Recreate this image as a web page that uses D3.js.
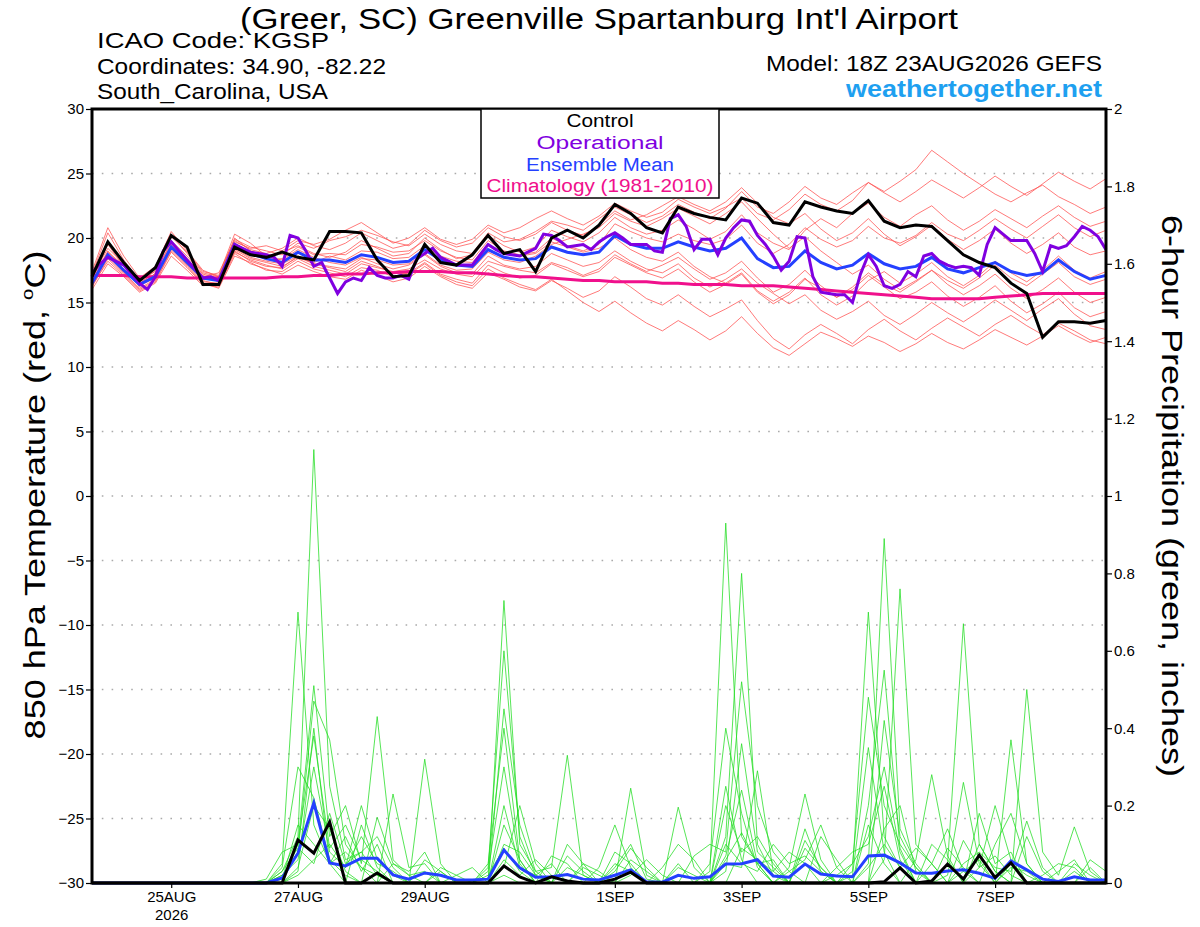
<!DOCTYPE html>
<html lang="en">

<head>
    <meta charset="UTF-8">
    <title>KGSP GEFS meteogram</title>
    <script src="https://d3js.org/d3.v7.min.js"></script>
    <style>
        body { margin: 0; background: #fff; }
        text { font-family: "Liberation Sans", Arial, Helvetica, sans-serif; }
    </style>
</head>

<body>
    <script>
        // model run start, 6-hourly steps (0..384h), operational run is 3-hourly
        const runStart = Date.UTC(2026, 7, 23, 18);
        const stepHours = 6;
        const opStepHours = 3;

        // x axis ticks
        const tickDates = ["2026-08-25", "2026-08-27", "2026-08-29", "2026-09-01", "2026-09-03", "2026-09-05", "2026-09-07"];
        const tickLabels = ["25AUG", "27AUG", "29AUG", "1SEP", "3SEP", "5SEP", "7SEP"];
        const tempTicks = [30, 25, 20, 15, 10, 5, 0, -5, -10, -15, -20, -25, -30];
        const precipTicks = [0, 0.2, 0.4, 0.6, 0.8, 1, 1.2, 1.4, 1.6, 1.8, 2];

        // 850 hPa temperature (C)
        const controlTemp = [17.0, 19.7, 18.1, 16.7, 17.7, 20.2, 19.3, 16.4, 16.4, 19.3,
            18.7, 18.5, 18.9, 18.5, 18.3, 20.5, 20.5, 20.4, 18.3, 17.0,
            17.1, 19.5, 18.1, 17.9, 18.7, 20.2, 18.8, 19.1, 17.4, 20.0,
            20.6, 20.0, 21.0, 22.6, 21.9, 20.8, 20.4, 22.4, 21.9, 21.6,
            21.4, 23.1, 22.7, 21.2, 21.0, 22.8, 22.4, 22.1, 21.9, 22.9,
            21.3, 20.8, 21.0, 20.9, 19.8, 18.7, 18.1, 17.7, 16.5, 15.7,
            12.3, 13.5, 13.5, 13.4, 13.6];

        const meanTemp = [16.5, 18.7, 17.5, 16.4, 17.0, 19.3, 18.1, 16.9, 16.7, 19.5,
            18.8, 18.4, 18.1, 18.9, 18.3, 18.3, 18.1, 18.7, 18.5, 18.1,
            18.2, 19.1, 18.3, 17.9, 17.8, 19.1, 18.5, 18.3, 18.4, 19.3,
            18.9, 18.7, 18.9, 20.2, 19.5, 19.2, 19.2, 19.7, 19.3, 19.0,
            19.2, 20.0, 18.4, 17.7, 17.8, 19.0, 18.1, 17.6, 17.9, 18.8,
            18.0, 17.6, 17.8, 18.5, 17.6, 17.3, 17.7, 18.1, 17.4, 17.1,
            17.3, 18.3, 17.4, 16.8, 17.1];

        const climoTemp = [17.1, 17.1, 17.1, 17.0, 17.0, 17.0, 16.9, 16.9, 16.9, 16.9,
            16.9, 16.9, 17.0, 17.0, 17.1, 17.1, 17.2, 17.2, 17.3, 17.3,
            17.4, 17.4, 17.4, 17.3, 17.3, 17.2, 17.1, 17.0, 17.0, 16.9,
            16.8, 16.7, 16.7, 16.6, 16.6, 16.6, 16.5, 16.5, 16.4, 16.4,
            16.4, 16.3, 16.3, 16.3, 16.2, 16.1, 16.0, 15.9, 15.8, 15.7,
            15.6, 15.5, 15.4, 15.3, 15.3, 15.3, 15.3, 15.4, 15.5, 15.6,
            15.7, 15.7, 15.7, 15.7, 15.7];

        // operational run, 3-hourly
        const opTemp = [17.3, 18.0, 18.5, 18.2, 17.9, 17.2, 16.5, 16.0, 17.0, 19.0,
            19.7, 19.0, 18.3, 17.6, 16.9, 17.0, 16.7, 18.0, 19.5, 19.2,
            18.9, 18.8, 18.7, 18.5, 17.8, 20.2, 20.0, 19.0, 17.8, 18.1,
            16.9, 15.7, 16.6, 16.9, 16.7, 17.7, 17.1, 16.9, 16.9, 17.1,
            16.8, 18.4, 18.8, 19.2, 18.5, 18.2, 17.9, 17.9, 17.9, 18.7,
            19.5, 19.1, 18.8, 18.7, 18.6, 18.9, 19.2, 20.3, 20.2, 19.8,
            19.3, 19.4, 19.5, 19.1, 19.7, 20.1, 20.4, 20.0, 19.5, 19.5,
            19.5, 19.0, 18.9, 21.5, 21.8, 20.9, 19.1, 19.9, 19.9, 18.7,
            20.0, 20.8, 21.4, 21.3, 20.2, 19.5, 18.6, 17.5, 18.2, 20.1,
            20.0, 17.0, 15.8, 15.7, 15.6, 15.6, 15.0, 17.2, 18.7, 17.8,
            16.3, 16.1, 16.4, 17.4, 17.0, 18.6, 18.8, 18.2, 17.9, 17.7,
            17.8, 17.7, 17.1, 19.5, 20.8, 20.3, 19.8, 19.8, 19.8, 18.8,
            17.4, 19.4, 19.2, 19.4, 20.1, 20.9, 20.6, 20.1, 19.1];

        // ensemble members, temperature
        const memberTemp1 = [16.8, 19.5, 17.8, 16.2, 17.3, 19.8, 18.6, 17.2, 16.9, 19.9, 19.3, 19.0, 18.7, 19.6, 19.2, 19.8, 20.1, 20.6, 20.2, 19.7, 19.4, 20.3, 19.5, 19.0, 18.8, 20.4, 19.7, 19.9, 20.5, 21.3, 21.0, 20.6, 21.5, 22.4, 21.8, 21.2, 21.7, 22.6, 22.0, 21.5, 22.3, 23.6, 22.4, 21.9, 22.8, 24.0, 23.1, 22.6, 23.5, 24.3, 23.6, 24.4, 25.3, 26.8, 25.9, 25.0, 24.2, 23.4, 22.8, 23.5, 24.1, 23.2, 22.6, 21.9, 22.4];
        const memberTemp2 = [16.3, 18.2, 17.1, 15.9, 16.6, 18.9, 17.7, 16.4, 16.2, 18.8, 18.0, 17.6, 17.2, 17.9, 17.4, 17.0, 16.8, 17.5, 17.1, 16.6, 16.9, 17.8, 17.0, 16.4, 16.1, 17.3, 16.8, 16.2, 15.9, 16.7, 16.1, 15.4, 15.9, 17.0, 16.2, 15.3, 14.8, 15.6, 14.7, 13.9, 14.5, 15.2, 13.6, 12.2, 11.4, 12.5, 13.3, 12.6, 11.8, 12.9, 13.7, 12.8, 12.1, 13.0, 13.8, 13.1, 12.4, 13.3, 14.0, 13.2, 12.5, 13.4, 12.8, 12.1, 11.8];
        const memberTemp3 = [17.2, 20.4, 18.3, 16.7, 17.6, 20.1, 18.9, 17.4, 17.1, 20.3, 19.6, 18.6, 18.9, 19.4, 18.8, 18.5, 18.9, 19.8, 19.2, 18.6, 18.8, 20.0, 19.1, 18.4, 18.7, 20.2, 19.4, 18.9, 19.3, 20.6, 20.1, 19.7, 20.4, 21.6, 20.8, 20.3, 20.6, 21.4, 20.7, 19.9, 20.5, 21.8, 20.4, 19.6, 19.1, 20.6, 21.5, 20.8, 21.9, 22.7, 21.6, 20.9, 21.8, 22.5, 21.4, 20.6, 21.3, 22.2, 21.5, 20.8, 21.7, 22.5, 21.6, 20.9, 21.3];
        const memberTemp4 = [16.0, 18.0, 17.0, 15.8, 16.5, 18.6, 17.5, 16.3, 16.4, 18.9, 18.3, 17.9, 17.6, 18.4, 17.8, 17.5, 17.2, 18.0, 17.7, 17.4, 17.6, 18.3, 17.6, 17.2, 17.0, 18.2, 17.8, 17.5, 17.3, 18.1, 17.7, 17.1, 17.6, 18.7, 18.0, 17.4, 17.9, 18.5, 17.6, 16.8, 17.3, 18.2, 16.9, 15.8, 16.4, 17.5, 16.3, 15.4, 16.0, 17.1, 16.2, 15.3, 15.8, 16.6, 15.5, 14.7, 15.4, 16.3, 15.1, 14.2, 14.9, 15.8, 14.6, 13.9, 14.3];
        const memberTemp5 = [16.7, 19.0, 17.6, 16.5, 17.1, 19.4, 18.3, 17.0, 17.3, 19.8, 19.1, 18.8, 19.2, 20.0, 19.4, 19.1, 19.6, 20.4, 19.8, 19.2, 19.5, 20.6, 19.8, 19.3, 19.6, 20.8, 20.1, 19.8, 20.3, 21.2, 20.6, 20.2, 21.0, 22.1, 21.4, 21.8, 22.5, 23.2, 22.6, 22.1, 22.8, 23.9, 22.7, 21.6, 21.1, 21.9, 20.7, 19.8, 20.4, 21.5, 20.3, 19.4, 20.1, 21.0, 19.9, 19.1, 19.8, 20.7, 19.6, 18.8, 19.5, 20.4, 19.3, 18.7, 19.0];
        const memberTemp6 = [17.0, 19.2, 18.0, 16.8, 17.4, 19.6, 18.4, 17.1, 16.6, 19.2, 18.5, 18.2, 18.0, 18.6, 18.1, 18.6, 18.3, 19.0, 18.9, 18.4, 18.5, 19.4, 18.6, 18.2, 18.1, 19.5, 18.9, 18.6, 18.8, 19.7, 19.3, 18.9, 19.2, 20.0, 19.1, 18.5, 18.2, 18.9, 17.8, 17.0, 16.5, 17.3, 15.9, 15.1, 15.8, 16.9, 15.6, 14.8, 15.5, 16.7, 17.4, 16.5, 17.2, 18.1, 17.0, 16.3, 17.1, 18.2, 17.3, 16.6, 17.5, 18.6, 17.5, 16.9, 17.4];
        const memberTemp7 = [16.4, 18.5, 17.3, 16.1, 16.8, 19.1, 17.9, 16.6, 16.5, 19.0, 18.2, 17.8, 17.7, 18.6, 18.0, 17.8, 17.6, 18.4, 18.3, 17.9, 18.0, 18.8, 17.9, 17.5, 17.6, 18.9, 18.3, 18.1, 18.6, 19.5, 19.9, 20.3, 20.8, 21.9, 21.3, 20.9, 21.5, 22.3, 21.7, 21.1, 21.9, 22.8, 21.5, 20.3, 19.2, 20.1, 19.0, 18.1, 17.2, 17.9, 16.8, 16.0, 16.7, 17.5, 16.4, 15.6, 16.3, 17.2, 16.1, 15.3, 16.0, 16.9, 15.8, 15.0, 15.4];
        const memberTemp8 = [17.4, 20.8, 18.6, 16.9, 17.8, 20.5, 19.0, 17.5, 17.0, 20.0, 19.0, 18.5, 18.3, 19.1, 18.5, 18.1, 17.9, 18.5, 18.0, 17.6, 17.9, 18.7, 17.8, 17.3, 17.2, 18.6, 17.9, 17.6, 17.8, 18.8, 18.3, 17.8, 18.1, 19.0, 18.2, 17.6, 17.3, 18.0, 16.9, 16.2, 16.8, 17.6, 16.5, 15.7, 14.9, 15.6, 14.4, 13.7, 14.3, 15.1, 14.0, 13.3, 14.1, 15.0, 14.2, 13.5, 14.3, 15.2, 14.4, 13.6, 14.5, 15.3, 14.1, 13.2, 12.9];
        const memberTemp9 = [16.9, 18.9, 17.9, 16.6, 17.2, 19.5, 18.2, 16.8, 16.8, 19.6, 18.9, 18.3, 18.4, 19.3, 18.7, 18.8, 18.7, 19.5, 19.3, 18.9, 19.0, 19.8, 19.0, 18.5, 18.3, 19.8, 19.0, 18.7, 18.9, 20.0, 19.4, 19.0, 19.5, 21.1, 20.5, 20.0, 19.7, 20.3, 19.8, 19.5, 19.9, 21.0, 19.6, 18.8, 19.5, 20.8, 19.9, 19.3, 19.8, 20.9, 20.0, 19.6, 20.2, 21.2, 20.3, 19.8, 20.6, 21.5, 20.7, 20.0, 20.9, 21.8, 20.8, 20.1, 20.6];
        const memberTemp10 = [16.2, 18.4, 17.2, 16.0, 16.7, 19.0, 17.8, 16.5, 16.1, 18.6, 18.1, 17.5, 17.4, 18.2, 17.6, 17.3, 17.0, 17.7, 17.5, 17.0, 17.3, 18.1, 17.2, 16.8, 16.5, 17.9, 17.3, 16.9, 17.1, 18.0, 17.5, 17.0, 17.4, 18.5, 17.9, 17.3, 16.9, 17.6, 16.6, 15.8, 16.4, 17.2, 15.8, 14.9, 15.6, 16.8, 16.1, 15.4, 16.2, 17.3, 16.4, 15.8, 16.6, 17.5, 16.7, 16.1, 16.9, 17.9, 16.9, 16.3, 17.2, 18.1, 17.0, 16.4, 16.8];
        const memberTemp11 = [17.1, 19.8, 18.1, 16.4, 17.5, 20.3, 18.8, 17.3, 17.0, 19.7, 19.2, 19.4, 19.0, 19.8, 19.5, 19.9, 20.6, 21.2, 20.4, 19.6, 20.0, 20.8, 19.9, 19.5, 19.9, 21.0, 20.4, 20.8, 21.5, 22.1, 21.5, 21.0, 21.7, 22.7, 22.1, 21.6, 22.0, 23.0, 22.4, 21.9, 22.4, 23.1, 21.9, 21.4, 22.2, 23.4, 22.6, 22.1, 22.9, 24.3, 23.5, 22.8, 23.6, 24.5, 23.8, 23.1, 23.9, 24.8, 24.0, 23.3, 24.2, 25.1, 24.4, 23.8, 24.6];
        const memberTemp12 = [16.6, 18.8, 17.4, 16.3, 16.9, 19.2, 18.0, 16.7, 16.4, 19.1, 18.4, 18.1, 17.8, 18.5, 18.0, 17.7, 17.4, 18.2, 17.8, 17.3, 17.2, 18.0, 17.1, 16.6, 16.3, 17.6, 16.9, 16.4, 16.0, 16.8, 15.9, 15.0, 14.3, 15.1, 14.2, 13.4, 12.8, 13.6, 12.9, 12.1, 12.8, 13.9, 12.6, 11.5, 10.9, 11.8, 12.7, 12.2, 11.6, 12.4, 11.9, 11.2, 11.8, 12.6, 11.9, 11.4, 12.1, 12.9, 12.3, 11.7, 12.4, 13.2, 12.5, 11.9, 12.3];

        // 6-hour precipitation (inches)
        const controlPrecip = [0, 0, 0, 0, 0, 0, 0, 0, 0, 0,
            0, 0, 0, 0.111, 0.077, 0.158, 0, 0, 0.026, 0,
            0, 0, 0, 0, 0, 0, 0.044, 0.016, 0, 0.016,
            0.005, 0, 0, 0.01, 0.028, 0, 0, 0, 0, 0,
            0, 0, 0, 0, 0, 0, 0, 0, 0, 0,
            0.003, 0.039, 0, 0.005, 0.049, 0.01, 0.072, 0.014, 0.052, 0,
            0, 0, 0, 0, 0];

        const meanPrecip = [0, 0, 0, 0, 0, 0, 0, 0, 0, 0,
            0, 0, 0.013, 0.077, 0.207, 0.052, 0.044, 0.064, 0.064, 0.021,
            0.010, 0.026, 0.020, 0.008, 0.008, 0.010, 0.085, 0.039, 0.015, 0.016,
            0.022, 0.010, 0.008, 0.020, 0.034, 0.003, 0.002, 0.020, 0.012, 0.016,
            0.049, 0.050, 0.060, 0.018, 0.015, 0.049, 0.023, 0.018, 0.016, 0.070,
            0.072, 0.052, 0.026, 0.025, 0.031, 0.034, 0.025, 0.012, 0.057, 0.034,
            0.010, 0.004, 0.016, 0.008, 0.008];

        // ensemble members, precipitation
        const memberPrecip1 = [0, 0, 0, 0, 0, 0, 0, 0, 0, 0, 0, 0, .03, .12, 1.12, .25, .06, .08, .02, 0, 0, 0, 0, 0, 0, .02, .09, .03, 0, 0, 0, 0, 0, .04, .10, .01, 0, 0, 0, 0, .12, .80, .10, .02, 0, 0, 0, 0, 0, .05, .89, .14, .05, 0, 0, .03, .06, 0, .04, .03, 0, 0, 0, 0, 0];
        const memberPrecip2 = [0, 0, 0, 0, 0, 0, 0, 0, 0, 0, 0, 0, .05, .70, .15, .05, 0, .15, .04, 0, 0, .32, .05, 0, 0, 0, .02, 0, 0, 0, .04, .02, 0, 0, 0, 0, 0, .05, 0, .03, .93, .12, .05, 0, 0, .09, .04, 0, .03, .70, .12, .04, 0, 0, .05, .67, .10, .03, 0, 0, 0, 0, 0, 0, 0];
        const memberPrecip3 = [0, 0, 0, 0, 0, 0, 0, 0, 0, 0, 0, .01, .08, .10, .51, .12, .20, .05, .43, .06, .02, 0, 0, 0, 0, 0, .73, .10, .03, .04, .33, .02, 0, 0, 0, 0, 0, 0, 0, 0, .05, .04, .29, .03, .08, .05, 0, 0, 0, 0, .06, .76, .10, .05, 0, 0, 0, 0, .37, .05, 0, 0, 0, 0, 0];
        const memberPrecip4 = [0, 0, 0, 0, 0, 0, 0, 0, 0, 0, 0, 0, .02, .08, .47, .37, .10, .04, 0, .23, .04, .05, 0, 0, 0, 0, .15, .06, 0, 0, 0, .05, .03, 0, .245, .02, 0, 0, 0, 0, .06, .13, .05, 0, .04, .23, .06, 0, 0, .15, .05, 0, 0, .10, .06, 0, 0, 0, 0, .50, .08, .02, .145, .03, 0];
        const memberPrecip5 = [0, 0, 0, 0, 0, 0, 0, 0, 0, 0, 0, 0, 0, .03, .40, .05, .12, .03, .10, 0, 0, 0, .03, 0, 0, .04, .60, .12, .02, 0, 0, 0, 0, .08, .05, 0, 0, .196, .04, 0, .20, .08, .12, .05, 0, 0, 0, .04, .08, .10, .25, .06, 0, 0, 0, 0, .18, .05, .08, 0, 0, 0, 0, 0, 0];
        const memberPrecip6 = [0, 0, 0, 0, 0, 0, 0, 0, 0, 0, 0, 0, .02, .06, .30, .08, .04, .20, .06, .02, 0, 0, 0, .02, .04, 0, .04, .20, .05, 0, .07, .03, 0, 0, 0, 0, .04, .10, .06, 0, .03, .36, .08, .04, 0, 0, .12, .06, 0, 0, .14, .20, .03, 0, 0, .11, .04, .20, .06, 0, 0, .03, .06, 0, 0];
        const memberPrecip7 = [0, 0, 0, 0, 0, 0, 0, 0, 0, 0, 0, 0, 0, .04, .20, .14, .03, 0, .17, .05, .03, .08, 0, 0, 0, .03, .30, .05, 0, .07, .05, 0, .04, .15, .04, 0, 0, 0, .07, .10, .08, .52, .20, .08, .03, 0, 0, 0, .05, .12, .30, .08, 0, 0, .09, .04, 0, 0, 0, .12, .03, 0, 0, .04, 0];
        const memberPrecip8 = [0, 0, 0, 0, 0, 0, 0, 0, 0, 0, 0, 0, .01, .15, .10, .05, .08, .04, .02, 0, 0, 0, .04, .02, 0, 0, .06, .02, .06, .02, 0, 0, 0, 0, .02, .06, .02, 0, 0, 0, .10, .05, .03, .10, .05, .07, .03, 0, 0, .04, .10, .04, .09, .05, 0, 0, .04, .07, .02, 0, 0, 0, .05, .02, 0];
        const memberPrecip9 = [0, 0, 0, 0, 0, 0, 0, 0, 0, 0, 0, 0, 0, .02, .06, .10, .04, .12, .05, .03, 0, 0, 0, 0, 0, 0, .45, .15, .03, 0, .10, .05, 0, .05, .03, 0, 0, 0, 0, .05, .40, .18, .04, 0, 0, .14, .03, 0, .02, .35, .08, 0, .06, .28, .07, 0, .10, .03, 0, 0, .02, .05, .04, 0, 0];
        const memberPrecip10 = [0, 0, 0, 0, 0, 0, 0, 0, 0, 0, 0, 0, .04, .30, .22, .06, .02, 0, 0, .05, .02, .03, 0, 0, 0, 0, .10, .08, .02, 0, 0, 0, 0, 0, .06, .03, 0, .04, .02, 0, 0, .09, .06, .03, 0, 0, 0, .02, .05, .48, .20, .10, .04, 0, 0, .05, .08, .04, .03, .16, .04, 0, .03, 0, 0];
        const memberPrecip11 = [0, 0, 0, 0, 0, 0, 0, 0, 0, 0, 0, 0, 0, .10, .38, .09, .15, .06, .03, 0, 0, .06, .03, 0, 0, .05, .40, .06, 0, 0, 0, .04, .02, 0, 0, 0, 0, 0, 0, 0, .25, .06, 0, 0, .03, .06, .15, .04, 0, 0, .42, .12, .04, 0, .02, .26, .05, 0, .05, .02, 0, 0, 0, 0, 0];
        const memberPrecip12 = [0, 0, 0, 0, 0, 0, 0, 0, 0, 0, 0, 0, .03, .09, .05, .18, .05, .08, .12, .04, 0, 0, 0, 0, 0, 0, .20, .04, .02, .05, 0, 0, 0, .03, .09, .04, 0, 0, 0, 0, .07, .24, .05, .06, 0, .11, .04, 0, 0, .20, .55, .09, 0, .05, .14, .03, 0, .10, .18, .05, 0, 0, 0, .06, .03];

        const memberTemps = [memberTemp1, memberTemp2, memberTemp3, memberTemp4, memberTemp5, memberTemp6,
            memberTemp7, memberTemp8, memberTemp9, memberTemp10, memberTemp11, memberTemp12];
        const memberPrecips = [memberPrecip1, memberPrecip2, memberPrecip3, memberPrecip4, memberPrecip5, memberPrecip6,
            memberPrecip7, memberPrecip8, memberPrecip9, memberPrecip10, memberPrecip11, memberPrecip12];

        // 画布大小
        const W = 1200;
        const H = 927;
        const margin = { top: 109, right: 94, bottom: 44, left: 92 };
        const innerW = W - margin.left - margin.right;
        const innerH = H - margin.top - margin.bottom;

        const svg = d3.select("body")
            .append("svg")
            .attr("width", W)
            .attr("height", H);

        const g = svg.append("g")
            .attr("transform", "translate(" + margin.left + "," + margin.top + ")");

        // 比例尺
        const hour = 3600 * 1000;
        const timeAt = (i, step) => new Date(runStart + i * step * hour);

        const x = d3.scaleUtc()
            .domain([timeAt(0, stepHours), timeAt(64, stepHours)])
            .range([0, innerW]);

        const yT = d3.scaleLinear().domain([-30, 30]).range([innerH, 0]);
        const yP = d3.scaleLinear().domain([0, 2]).range([innerH, 0]);

        // dotted grid lines
        g.append("g")
            .selectAll("line")
            .data(tempTicks.filter(d => d > -30 && d < 30))
            .enter()
            .append("line")
            .attr("x1", 0)
            .attr("x2", innerW)
            .attr("y1", d => yT(d))
            .attr("y2", d => yT(d))
            .attr("stroke", "#aaa")
            .attr("stroke-width", 1.6)
            .attr("stroke-dasharray", "1.6,8.2");

        const lineT = step => d3.line()
            .x((d, i) => x(timeAt(i, step)))
            .y(d => yT(d));
        const lineP = d3.line()
            .x((d, i) => x(timeAt(i, stepHours)))
            .y(d => yP(d));

        // ensemble members
        g.append("g")
            .selectAll("path")
            .data(memberTemps)
            .enter()
            .append("path")
            .attr("d", lineT(stepHours))
            .attr("fill", "none")
            .attr("stroke", "#ff5050")
            .attr("stroke-width", 0.9)
            .attr("stroke-opacity", 0.85);

        g.append("g")
            .selectAll("path")
            .data(memberPrecips)
            .enter()
            .append("path")
            .attr("d", lineP)
            .attr("fill", "none")
            .attr("stroke", "#22dd22")
            .attr("stroke-width", 0.9)
            .attr("stroke-opacity", 0.85);

        // climatology, mean, operational, control
        g.append("path")
            .datum(climoTemp)
            .attr("d", lineT(stepHours))
            .attr("fill", "none")
            .attr("stroke", "#f0108c")
            .attr("stroke-width", 3);

        g.append("path")
            .datum(meanTemp)
            .attr("d", lineT(stepHours))
            .attr("fill", "none")
            .attr("stroke", "#2440ff")
            .attr("stroke-width", 3);

        g.append("path")
            .datum(opTemp)
            .attr("d", lineT(opStepHours))
            .attr("fill", "none")
            .attr("stroke", "#8000e0")
            .attr("stroke-width", 3);

        g.append("path")
            .datum(controlTemp)
            .attr("d", lineT(stepHours))
            .attr("fill", "none")
            .attr("stroke", "#000")
            .attr("stroke-width", 3);

        g.append("path")
            .datum(meanPrecip)
            .attr("d", lineP)
            .attr("fill", "none")
            .attr("stroke", "#2440ff")
            .attr("stroke-width", 3);

        g.append("path")
            .datum(controlPrecip)
            .attr("d", lineP)
            .attr("fill", "none")
            .attr("stroke", "#000")
            .attr("stroke-width", 3);

        // 坐标轴
        const axisL = g.append("g")
            .call(d3.axisLeft(yT).tickValues(tempTicks).tickSize(6).tickFormat(d3.format("d")));
        const axisR = g.append("g")
            .attr("transform", "translate(" + innerW + ",0)")
            .call(d3.axisRight(yP).tickValues(precipTicks).tickSize(6).tickFormat(d => d3.format("")(+d.toFixed(1))));
        const axisB = g.append("g")
            .attr("transform", "translate(0," + innerH + ")")
            .call(d3.axisBottom(x).tickValues(tickDates.map(d => new Date(d + "T00:00:00Z"))).tickSize(5)
                .tickFormat((d, i) => tickLabels[i]));

        [axisL, axisR, axisB].forEach(a => {
            a.select(".domain").remove();
            a.selectAll(".tick line").attr("stroke", "#000").attr("stroke-width", 1.2);
            a.selectAll(".tick text")
                .attr("fill", "#000")
                .style("font-size", "15px")
                .style("font-family", "'Liberation Sans', Arial, sans-serif");
        });
        axisL.selectAll(".tick text").attr("x", -8);
        axisR.selectAll(".tick text").attr("x", 8);
        axisB.selectAll(".tick text").attr("y", 8).attr("dy", "0.71em");

        // year under the first date
        axisB.select(".tick")
            .append("text")
            .attr("y", 26)
            .attr("dy", "0.71em")
            .attr("fill", "#000")
            .attr("text-anchor", "middle")
            .style("font-size", "15px")
            .text("2026");

        // frame
        g.append("rect")
            .attr("x", 0)
            .attr("y", 0)
            .attr("width", innerW)
            .attr("height", innerH)
            .attr("fill", "none")
            .attr("stroke", "#000")
            .attr("stroke-width", 3);

        // legend box
        const legendItems = [
            { label: "Control", color: "#000", width: 67 },
            { label: "Operational", color: "#8000e0", width: 127 },
            { label: "Ensemble Mean", color: "#2440ff", width: 148 },
            { label: "Climatology (1981-2010)", color: "#f0108c", width: 227 }
        ];
        const legend = svg.append("g");
        legend.append("rect")
            .attr("x", 481)
            .attr("y", 109)
            .attr("width", 238)
            .attr("height", 89)
            .attr("fill", "#fff")
            .attr("stroke", "#000")
            .attr("stroke-width", 1.5);
        legend.selectAll("text")
            .data(legendItems)
            .enter()
            .append("text")
            .attr("x", 600)
            .attr("y", (d, i) => 127 + i * 21.8)
            .attr("text-anchor", "middle")
            .attr("fill", d => d.color)
            .attr("textLength", d => d.width)
            .attr("lengthAdjust", "spacingAndGlyphs")
            .style("font-size", "18px")
            .text(d => d.label);

        // 标题和说明
        svg.append("text")
            .attr("x", 599)
            .attr("y", 29)
            .attr("text-anchor", "middle")
            .attr("textLength", 718)
            .attr("lengthAdjust", "spacingAndGlyphs")
            .style("font-size", "30px")
            .text("(Greer, SC) Greenville Spartanburg Int'l Airport");

        const infoLines = [
            { label: "ICAO Code: KGSP", width: 232 },
            { label: "Coordinates: 34.90, -82.22", width: 289 },
            { label: "South_Carolina, USA", width: 231 }
        ];
        svg.selectAll(".info")
            .data(infoLines)
            .enter()
            .append("text")
            .attr("class", "info")
            .attr("x", 97)
            .attr("y", (d, i) => 48 + i * 25.5)
            .attr("textLength", d => d.width)
            .attr("lengthAdjust", "spacingAndGlyphs")
            .style("font-size", "22px")
            .text(d => d.label);

        svg.append("text")
            .attr("x", 766)
            .attr("y", 71)
            .attr("textLength", 336)
            .attr("lengthAdjust", "spacingAndGlyphs")
            .style("font-size", "22px")
            .text("Model: 18Z 23AUG2026 GEFS");

        svg.append("text")
            .attr("x", 846)
            .attr("y", 97)
            .attr("fill", "#1ea0f0")
            .attr("textLength", 256)
            .attr("lengthAdjust", "spacingAndGlyphs")
            .style("font-size", "24px")
            .style("font-weight", "bold")
            .text("weathertogether.net");

        // axis titles, stretched along the text direction
        const leftTitle = svg.append("text")
            .attr("transform", "translate(45,495) rotate(-90) scale(1.2,1)")
            .attr("text-anchor", "middle")
            .style("font-size", "30px");
        leftTitle.append("tspan").text("850 hPa Temperature (red, ");
        leftTitle.append("tspan").attr("dy", -12).style("font-size", "17px").text("o");
        leftTitle.append("tspan").attr("dy", 12).text("C)");

        svg.append("text")
            .attr("transform", "translate(1162,496) rotate(90) scale(1.2,1)")
            .attr("text-anchor", "middle")
            .style("font-size", "30px")
            .text("6-hour Precipitation (green, inches)");
    </script>
</body>

</html>
